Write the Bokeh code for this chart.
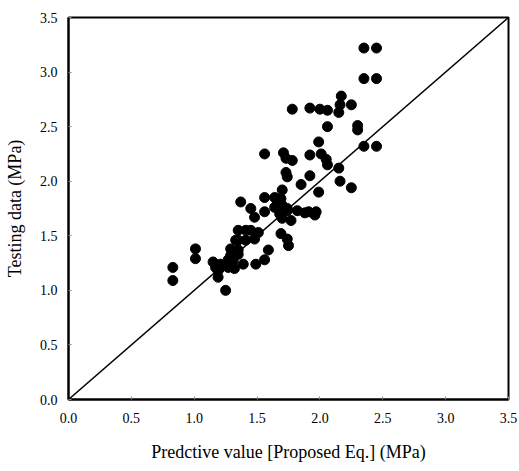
from bokeh.plotting import figure
from bokeh.models import Range1d, FixedTicker, ColumnDataSource
from bokeh.embed import file_html
from bokeh.resources import INLINE

# Predicted (x) vs testing data (y), MPa
pred = [0.83, 0.83, 1.01, 1.01, 1.15, 1.17, 1.19, 1.19, 1.25, 1.21,
        1.27, 1.29, 1.32, 1.35, 1.27, 1.32, 1.39, 1.33, 1.35, 1.35,
        1.35, 1.37, 1.41, 1.45, 1.51, 1.41, 1.48, 1.45, 1.48, 1.49,
        1.56, 1.59, 1.56, 1.56, 1.64, 1.69, 1.56, 1.64, 1.66, 1.70,
        1.74, 1.70, 1.77, 1.68, 1.74, 1.69, 1.74, 1.75, 1.70, 1.71,
        1.73, 1.78, 1.73, 1.74, 1.78, 1.82, 1.88, 1.91, 1.97, 1.96,
        1.85, 1.92, 1.92, 1.99, 1.99, 2.01, 2.05, 2.06, 1.92, 2.00,
        2.06, 2.06, 2.15, 2.16, 2.15, 2.16, 2.17, 2.25, 2.25, 2.30,
        2.30, 2.35, 2.45, 2.35, 2.45, 2.35, 2.45, 1.29, 1.31, 1.21]
test = [1.21, 1.09, 1.38, 1.29, 1.26, 1.21, 1.18, 1.12, 1.00, 1.21,
        1.28, 1.32, 1.34, 1.37, 1.21, 1.20, 1.24, 1.46, 1.55, 1.33,
        1.46, 1.81, 1.55, 1.55, 1.53, 1.46, 1.47, 1.75, 1.67, 1.24,
        1.28, 1.37, 1.72, 1.85, 1.85, 1.84, 2.25, 1.76, 1.79, 1.78,
        1.75, 1.66, 1.64, 1.70, 1.73, 1.52, 1.47, 1.41, 1.92, 2.26,
        2.21, 2.19, 2.08, 2.04, 2.66, 1.73, 1.71, 1.72, 1.72, 1.69,
        1.97, 2.05, 2.24, 1.90, 2.36, 2.25, 2.20, 2.15, 2.67, 2.66,
        2.65, 2.50, 2.12, 2.00, 2.63, 2.70, 2.78, 2.70, 1.94, 2.51,
        2.47, 2.32, 2.32, 2.94, 2.94, 3.22, 3.22, 1.38, 1.27, 1.24]
line_x = [0.0, 3.5]
line_y = [0.0, 3.5]
ticks = [0.0, 0.5, 1.0, 1.5, 2.0, 2.5, 3.0, 3.5]

p = figure(width=519, height=471, output_backend="svg", toolbar_location=None,
           x_range=Range1d(0, 3.5), y_range=Range1d(0, 3.5))
p.min_border_left = 68
p.min_border_right = 11
p.min_border_top = 17
p.min_border_bottom = 72
p.xgrid.visible = False
p.ygrid.visible = False
p.outline_line_color = "black"
p.outline_line_width = 2
p.background_fill_color = "white"
p.border_fill_color = "white"

p.line(line_x, line_y, line_color="black", line_width=1.5)
src = ColumnDataSource(data=dict(x=pred, y=test))
p.scatter("x", "y", source=src, size=10, fill_color="black", line_color="black")

for ax in (p.xaxis[0], p.yaxis[0]):
    ax.ticker = FixedTicker(ticks=ticks)
    ax.major_label_overrides = {t: f"{t:.1f}" for t in ticks}
    ax.minor_tick_line_color = None
    ax.major_tick_in = 3
    ax.major_tick_out = 0
    ax.major_tick_line_color = "#888888"
    ax.axis_line_color = "black"
    ax.axis_line_width = 2
    ax.major_label_text_font = "Liberation Serif"
    ax.major_label_text_font_size = "14px"
    ax.major_label_text_color = "black"
    ax.axis_label_text_font = "Liberation Serif"
    ax.axis_label_text_font_size = "18px"
    ax.axis_label_text_font_style = "normal"
    ax.axis_label_text_color = "black"

p.xaxis.axis_label = "Predctive value [Proposed Eq.] (MPa)"
p.yaxis.axis_label = "Testing data (MPa)"
p.xaxis.major_label_standoff = 13
p.yaxis.major_label_standoff = 11
p.xaxis.axis_label_standoff = 16
p.yaxis.axis_label_standoff = 12

open("out.html", "w").write(file_html(p, INLINE))
